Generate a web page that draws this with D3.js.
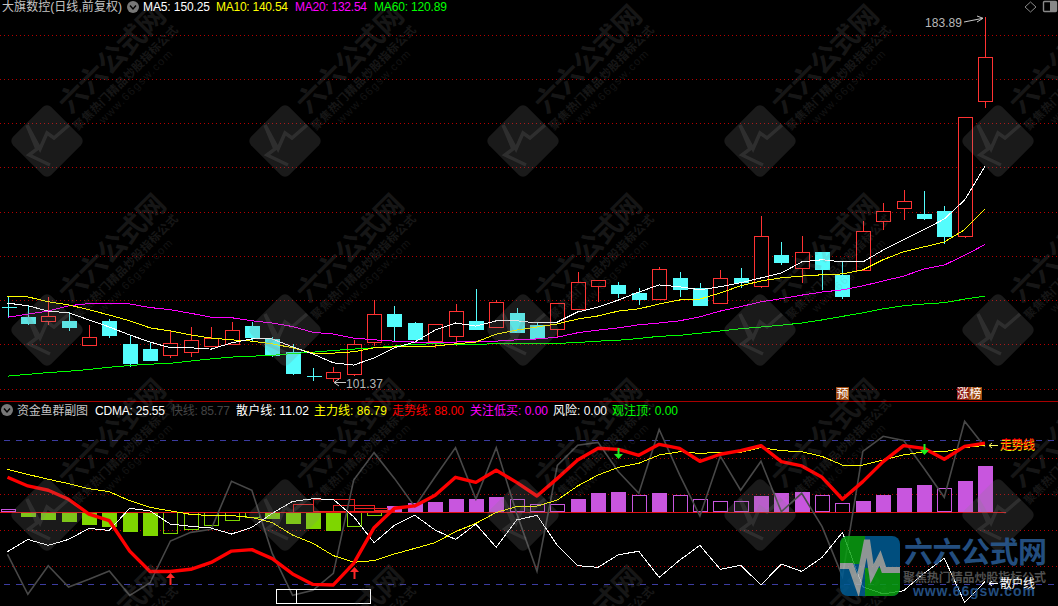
<!DOCTYPE html>
<html><head><meta charset="utf-8">
<style>html,body{margin:0;padding:0;background:#000;overflow:hidden}svg{display:block}text{font-family:"Liberation Sans","Noto Sans CJK SC",sans-serif}</style>
<script src="https://cdn.jsdelivr.net/npm/d3@7"></script></head><body><svg id="c" width="1058" height="606"></svg>
<script>
const opens=[118.5,116.2,115.3,115.3,109.7,115.3,110.1,108.9,107.4,108.1,109.5,110.1,114.1,111.2,108.3,102.8,102.4,103.2,110.4,116.9,114.8,110.6,111.9,115.3,113.8,117.1,114.4,113.5,117.8,123.1,123.4,121.6,120.2,125.0,122.7,119.3,124.9,123.0,130.2,127.1,130.9,125.7,126.7,137.8,140.7,139.5,140.2,134.3,165.0];
const closes=[118.5,114.9,116.4,113.9,111.6,112.1,105.8,106.4,110.2,110.9,111.4,113.2,111.6,107.6,103.5,102.8,103.7,110.0,116.8,114.1,111.2,114.5,117.5,113.5,119.5,112.8,111.4,119.3,124.0,124.5,121.6,120.2,127.0,122.5,118.9,124.9,124.1,134.4,128.6,130.8,127.0,120.9,135.6,140.1,142.3,138.6,134.5,161.3,174.9];
const highs=[120.7,118.7,120.6,117.3,114.4,115.7,111.9,110.5,113.0,113.9,113.9,115.0,115.0,111.6,110.1,104.6,104.9,111.0,120.0,118.7,115.0,114.5,119.1,122.5,120.0,118.1,115.0,119.3,126.4,124.5,124.0,122.7,127.4,126.4,123.9,126.8,127.2,139.0,133.1,134.5,130.9,128.8,137.9,142.0,144.9,144.7,141.3,161.3,183.89];
const lows=[116.0,114.4,114.4,113.0,109.7,111.5,104.9,106.2,106.9,107.1,109.5,110.1,110.7,107.1,103.1,101.7,101.37,102.8,109.5,110.7,111.2,109.2,109.5,113.2,113.8,112.6,111.2,111.3,117.8,119.6,120.5,118.9,120.0,120.7,118.8,119.3,122.7,122.6,127.9,123.9,122.3,120.3,126.7,135.9,138.1,138.1,132.7,133.9,163.3];
const ma5=[119.3,118.7,117.5,117.1,115.5,113.9,112.1,110.5,109.2,109.2,108.9,110.3,111.2,111.2,109.4,107.8,105.8,105.3,106.9,109.2,110.5,113.2,114.8,114.1,115.3,115.3,114.8,115.0,117.3,118.4,120.0,121.8,123.4,123.0,122.3,123.0,123.9,125.0,126.1,128.6,129.1,128.6,128.6,131.3,133.6,135.9,138.3,142.6,150.25];
const ma10=[120.9,120.7,119.6,118.9,117.8,116.6,115.3,113.7,113.0,112.1,111.4,111.0,110.7,110.1,109.2,108.0,108.0,108.3,109.2,109.4,109.4,109.6,110.1,110.5,112.3,113.2,113.9,114.6,115.7,116.4,117.5,118.0,119.1,120.0,120.2,121.6,123.2,124.3,125.0,125.4,125.7,125.9,126.8,129.1,130.9,132.0,133.1,135.9,140.54];
const ma20=[116.1,116.8,117.5,118.7,119.2,119.2,119.1,118.3,117.8,117.0,116.1,116.0,115.3,114.8,114.0,112.7,112.3,111.4,111.0,110.7,110.5,110.4,110.5,110.6,110.7,111.0,111.2,111.6,112.6,113.2,113.7,114.4,114.8,115.3,116.2,117.5,118.5,119.6,120.3,121.1,121.8,122.3,123.2,124.3,125.4,127.0,127.9,130.1,132.54];
const ma60=[102.8,103.2,103.6,103.9,104.3,104.8,105.2,105.5,105.7,106.2,106.7,107.1,107.3,107.5,107.9,108.2,108.6,108.9,109.2,109.6,110.0,110.1,110.0,110.0,110.1,110.2,110.2,110.2,110.4,110.7,110.9,111.3,111.8,112.0,112.5,113.0,113.5,113.9,114.3,114.8,115.5,116.3,117.1,118.0,118.7,119.1,119.4,120.2,120.89];
const priceGrid=[100,110,120,130,140,150,160,170,180];
const cdma=[1.3,-2.0,-3.7,-4.8,-6.5,-7.6,-10.4,-12.6,-11.7,-9.4,-7.4,-4.4,-2.8,-3.5,-5.9,-8.7,-10.2,-8.0,-1.9,3.0,4.6,5.2,6.9,6.9,8.0,6.7,3.9,3.9,6.9,10.2,10.7,9.4,10.2,9.4,6.7,5.6,5.6,8.5,10.2,10.7,8.9,5.0,5.7,9.1,13.0,14.6,12.8,16.8,25.55];
const cdmaSolid=[0,1,1,1,1,1,1,1,0,0,0,0,0,1,1,1,1,0,0,1,1,1,1,1,1,0,0,0,1,1,1,0,1,0,0,0,0,1,1,1,0,0,1,1,1,1,0,1,1];
const fastLine=[26.2,4.0,19.9,8.0,12.3,16.9,3.4,10.4,33.6,38.4,40.1,66.8,61.8,26.7,3.4,6.2,15.6,67.5,82.7,68.4,52.7,69.3,85.5,56.9,85.5,49.0,16.9,75.6,86.8,88.4,72.1,60.1,95.6,70.5,47.5,80.8,61.8,77.9,49.9,60.1,41.6,13.8,83.4,91.8,89.5,74.0,57.9,100.1,85.77];
const retailLine=[27.7,34.5,31.2,34.5,40.6,39.5,51.8,50.3,43.0,41.8,40.8,37.5,41.2,49.0,55.6,57.1,56.7,47.1,32.7,42.3,47.9,39.7,34.5,43.0,30.1,45.3,47.9,31.2,19.9,19.0,26.0,27.9,13.4,22.9,31.2,17.9,20.1,9.2,20.8,16.7,24.5,38.4,8.2,4.2,6.0,15.6,24.0,-0.5,11.02];
const mainLine=[73.4,70.6,67.9,65.5,62.7,61.0,56.0,52.3,50.3,48.4,47.7,47.7,46.7,43.8,36.9,32.3,25.5,21.8,22.7,26.4,29.5,32.7,38.8,43.4,49.5,52.7,53.0,56.4,64.2,70.3,74.5,76.8,81.4,83.2,82.3,82.9,82.9,85.5,83.8,83.2,80.6,75.8,75.8,78.6,81.4,83.2,83.2,85.5,86.79];
const trendLine=[69.0,64.2,61.8,56.8,48.6,44.9,28.0,16.7,16.7,17.9,21.7,28.0,28.8,23.8,15.3,9.5,9.2,21.2,41.0,51.8,53.1,59.0,69.0,66.2,72.9,66.2,58.6,68.4,78.6,85.1,84.5,81.2,87.3,85.1,77.9,81.8,83.8,86.6,77.7,75.3,69.0,56.8,66.6,77.7,86.6,85.1,79.0,86.2,88.0];
const subGrid=[20,40,60,80];
const subBands=[10,90];
const zoneStart=[14,15,16,17,18];
const zoneEnd=[15,17,18,18.6,19];
const zoneValue=[4.4,6.7,3.5,1.8,0.7];
const upArrowIdx=[8,17];
const upArrowTip=[15.8,19.2];
const downArrowIdx=[30,45];
const downArrowTip=[79.2,81.4];
const boxStart=13.18,boxEnd=17.82,boxDivider=14.17,boxTop=6.9,boxBottom=-0.6;
const headerLabels=[["大旗数控(日线,前复权)",2,122,"#c4c4c4"],["MA5: 150.25",143,210,"#fff"],["MA10: 140.54",216,288,"#ff0"],["MA20: 132.54",295,367,"#f0f"],["MA60: 120.89",374,447,"#0f0"]];
const subLabels=[["资金鱼群副图",17,88,"#c4c4c4"],["CDMA: 25.55",95,165,"#fff"],["快线: 85.77",171,230,"#444"],["散户线: 11.02",236,309,"#fff"],["主力线: 86.79",314,387,"#ff0"],["走势线: 88.00",392,464,"#f00"],["关注低买: 0.00",470,548,"#f0f"],["风险: 0.00",553,607,"#fff"],["观注顶: 0.00",612,678,"#0f0"]];
const tagLabels=[["预",836,849,"#a04a10"],["涨",957,969,"#8c1a10"],["榜",969,982,"#a04a10"]];
const markRows=[141,330,515,702];
const markCols=[47,285,523,760,998];

const svg=d3.select("#c");
svg.append("rect").attr("width",1058).attr("height",606).attr("fill","#000");
const x=d3.scaleLinear().domain([0,48]).range([7.5,985]);
const yM=d3.scaleLinear().domain([100,180]).range([388.5,34.5]);
const yS=d3.scaleLinear().domain([10,90]).range([583.5,439.5]);
const px=v=>Math.round(v)+.5;
const idx=d3.range(opens.length);
const gM=svg.append("g"),gS=svg.append("g");

// grids
[[gM,priceGrid,yM],[gS,subGrid,yS]].forEach(([g,vals,sc])=>{
 g.selectAll(".g").data(vals).join("line").attr("x1",0).attr("x2",1058).attr("y1",d=>px(sc(d))).attr("y2",d=>px(sc(d))).attr("stroke","#b40000").attr("stroke-dasharray","1 3").attr("shape-rendering","crispEdges");
});
gS.selectAll(".b").data(subBands).join("line").attr("x1",4).attr("x2",1058).attr("y1",d=>px(yS(d))).attr("y2",d=>px(yS(d))).attr("stroke","#3c3ca0").attr("stroke-dasharray","6 6").attr("shape-rendering","crispEdges");
svg.append("line").attr("x1",0).attr("x2",1058).attr("y1",401.5).attr("y2",401.5).attr("stroke","#a80000");

// candles
const red="#ff3232",cyan="#54fcfc";
const col=i=>closes[i]>opens[i]?red:cyan;
gM.selectAll(".w").data(idx).join("line").attr("x1",i=>px(x(i))).attr("x2",i=>px(x(i))).attr("y1",i=>yM(highs[i])).attr("y2",i=>yM(lows[i])).attr("stroke",col).attr("shape-rendering","crispEdges");
gM.selectAll(".bd").data(idx.filter(i=>opens[i]!==closes[i])).join("rect").attr("x",i=>px(x(i))-7).attr("width",14)
 .attr("y",i=>px(yM(Math.max(opens[i],closes[i])))).attr("height",i=>Math.round(Math.abs(yM(opens[i])-yM(closes[i]))))
 .attr("fill",i=>closes[i]>opens[i]?"#000":cyan).attr("stroke",col).attr("shape-rendering","crispEdges");
gM.selectAll(".dj").data(idx.filter(i=>opens[i]===closes[i])).join("line").attr("x1",i=>px(x(i))-7).attr("x2",i=>px(x(i))+8).attr("y1",i=>px(yM(opens[i]))).attr("y2",i=>px(yM(opens[i]))).attr("stroke",col).attr("shape-rendering","crispEdges");

// moving averages
const lineM=d3.line().x((d,i)=>x(i)).y(d=>yM(d));
[[ma60,"#00ff00"],[ma20,"#ff00ff"],[ma10,"#ffff00"],[ma5,"#ffffff"]].forEach(([s,c])=>{
 gM.append("path").attr("d",lineM(s)).attr("fill","none").attr("stroke",c).attr("shape-rendering","crispEdges");
});

// CDMA bars
const purple="#c856de",lime="#7ed600";
const barC=i=>cdma[i]>=0?purple:lime;
gS.selectAll(".cb").data(idx).join("rect").attr("x",i=>px(x(i))-7).attr("width",14)
 .attr("y",i=>px(Math.min(yS(50),yS(50+cdma[i])))).attr("height",i=>Math.round(Math.abs(yS(50)-yS(50+cdma[i]))))
 .attr("fill",i=>cdmaSolid[i]?barC(i):"none").attr("stroke",barC).attr("shape-rendering","crispEdges");
gS.selectAll(".z").data(zoneStart).join("rect").attr("x",(d,i)=>px(x(d))).attr("width",(d,i)=>x(zoneEnd[i])-x(d))
 .attr("y",(d,i)=>px(yS(50+zoneValue[i]))).attr("height",(d,i)=>Math.round(yS(50)-yS(50+zoneValue[i])))
 .attr("fill","none").attr("stroke","#e82020").attr("shape-rendering","crispEdges");
gS.append("line").attr("x1",0).attr("x2",1006).attr("y1",px(yS(50))).attr("y2",px(yS(50))).attr("stroke","#e01010");

// indicator lines
const lineS=d3.line().x((d,i)=>x(i)).y(d=>yS(d));
gS.append("path").attr("d",lineS(fastLine)).attr("fill","none").attr("stroke","#484848").attr("stroke-width",1.6);
gS.append("path").attr("d",lineS(retailLine)).attr("fill","none").attr("stroke","#fff").attr("shape-rendering","crispEdges");
gS.append("path").attr("d",lineS(mainLine)).attr("fill","none").attr("stroke","#ff0").attr("shape-rendering","crispEdges");
gS.append("rect").attr("x",px(x(boxStart))).attr("y",px(yS(boxTop))).attr("width",x(boxEnd)-x(boxStart)).attr("height",yS(boxBottom)-yS(boxTop)).attr("fill","none").attr("stroke","#fff").attr("shape-rendering","crispEdges");
gS.append("line").attr("x1",px(x(boxDivider))).attr("x2",px(x(boxDivider))).attr("y1",yS(boxTop)).attr("y2",yS(boxBottom)).attr("stroke","#fff").attr("shape-rendering","crispEdges");
gS.append("path").attr("d",lineS(trendLine)).attr("fill","none").attr("stroke","#ff0000").attr("stroke-width",3.4).attr("stroke-linejoin","round");

// arrows
upArrowIdx.forEach((k,i)=>{const a=px(x(k)),t=yS(upArrowTip[i]);
 gS.append("path").attr("d",`M${a},${t}L${a+4.5},${t+5}L${a+1},${t+5}V${t+12}H${a-1}V${t+5}H${a-4.5}Z`).attr("fill","#ff2828");});
downArrowIdx.forEach((k,i)=>{const a=px(x(k)),t=yS(downArrowTip[i]);
 gS.append("path").attr("d",`M${a},${t}L${a+4.5},${t-5}L${a+1},${t-5}V${t-11}H${a-1}V${t-5}H${a-4.5}Z`).attr("fill","#1cf01c");});

// watermarks above the marks, translucent
const wm=svg.append("g");
markRows.forEach(r=>markCols.forEach(c=>{
 const g=wm.append("g").attr("transform",`translate(${c},${r})`);
 g.append("rect").attr("x",-27).attr("y",-27).attr("width",54).attr("height",54).attr("rx",6).attr("transform","rotate(45)").attr("fill","#808080").attr("opacity",.2);
 g.append("path").attr("d","M22,-16L7,-3L0,-8L-7,8L-20,-16L-10,8L-18,14L3,24").attr("fill","none").attr("stroke","#808080").attr("stroke-width",3.5).attr("opacity",.2);
 const t=g.append("g").attr("transform","rotate(-45)");
 t.append("text").attr("x",35).attr("y",-2).attr("font-size",28).attr("font-weight",700).attr("textLength",138).attr("fill","#808080").attr("opacity",.17).text("六六公式网");
 t.append("text").attr("x",29).attr("y",15).attr("font-size",11.5).attr("font-weight",700).attr("textLength",142).attr("fill","#808080").attr("opacity",.17).text("聚焦热门精品炒股指标公式");
 t.append("text").attr("x",52).attr("y",28).attr("font-size",11).attr("textLength",98).attr("fill","#808080").attr("opacity",.14).text("www.66gsw.com");
}));

// corner logo
const logo=svg.append("g").attr("opacity",.85);
const clip=svg.append("defs").append("clipPath").attr("id","lc");clip.append("rect").attr("x",840).attr("y",536).attr("width",60).attr("height",60).attr("rx",8);
const lq=logo.append("g").attr("clip-path","url(#lc)");
lq.append("rect").attr("x",840).attr("y",536).attr("width",60).attr("height",60).attr("fill","#005c94");
lq.append("rect").attr("x",840).attr("y",536).attr("width",25).attr("height",28).attr("fill","#0aa012");
lq.append("rect").attr("x",865).attr("y",568).attr("width",35).attr("height",28).attr("fill","#0aa012");
lq.append("path").attr("d","M838,566H851L858,586L867,540L872,574L880,558L884,570H902").attr("fill","none").attr("stroke","#a8b0b0").attr("stroke-width",6);
logo.append("text").attr("x",904).attr("y",563).attr("font-size",29).attr("font-weight",700).attr("textLength",143).attr("fill","#2a5c96").text("六六公式网");
logo.append("text").attr("x",903).attr("y",582).attr("font-size",12).attr("font-weight",700).attr("textLength",143).attr("fill","#5e5e5e").text("聚焦热门精品炒股指标公式");
logo.append("text").attr("x",913).attr("y",596).attr("font-size",14).attr("font-weight",700).attr("textLength",122).attr("fill","#2a5c96").text("www.66gsw.com");

// text
const lab=(g,d,y)=>g.append("text").attr("x",d[1]).attr("y",y).attr("font-size",12).attr("textLength",d[2]-d[1]).attr("fill",d[3]).text(d[0]);
const ui=svg.append("g");
headerLabels.forEach(d=>lab(ui,d,11));
subLabels.forEach(d=>lab(ui,d,415));
tagLabels.forEach(d=>{ui.append("rect").attr("x",d[1]).attr("y",387).attr("width",d[2]-d[1]).attr("height",13).attr("fill",d[3]);
 ui.append("text").attr("x",(d[1]+d[2])/2).attr("y",398).attr("font-size",12).attr("text-anchor","middle").attr("fill","#fff").text(d[0]);});
[[133,7],[7,410]].forEach(([a,b])=>{ui.append("circle").attr("cx",a).attr("cy",b).attr("r",6).attr("fill","#777");
 ui.append("path").attr("d",`M${a-3},${b-1.5}L${a},${b+2}L${a+3},${b-1.5}`).attr("fill","none").attr("stroke","#000").attr("stroke-width",1.4);});
ui.append("path").attr("d","M1030.5,2L1036,7L1030.5,12L1025,7Z").attr("fill","none").attr("stroke","#888");
ui.append("rect").attr("x",1043.5).attr("y",1.5).attr("width",13).attr("height",10).attr("rx",1).attr("fill","none").attr("stroke","#888").attr("stroke-width",1.4);
ui.append("rect").attr("x",1050).attr("y",2).attr("width",6).attr("height",9).attr("fill","#888");
// high / low notes
ui.append("text").attr("x",925).attr("y",27).attr("font-size",12).attr("textLength",37).attr("fill","#b8b8b8").text(highs[48].toFixed(2));
ui.append("path").attr("d",`M964,22L983,${yM(highs[48])+1}M977,16L983,${yM(highs[48])+1}L977,22`).attr("fill","none").attr("stroke","#c8c8c8");
ui.append("path").attr("d","M334,382.5H346M334,382.5L339,379M334,382.5L339,386").attr("fill","none").attr("stroke","#c8c8c8");
ui.append("text").attr("x",346).attr("y",388).attr("font-size",12).attr("textLength",37).attr("fill","#b8b8b8").text(lows[16].toFixed(2));
// line tags
ui.append("path").attr("d","M989,445.5H998M989,445.5L992,443M989,445.5L992,448").attr("fill","none").attr("stroke","#ffff60");
ui.append("text").attr("x",1000).attr("y",450).attr("font-size",12).attr("textLength",35).attr("fill","#ff0").text("走势线");
ui.append("text").attr("x",1000).attr("y",449).attr("font-size",12).attr("textLength",35).attr("fill","#f00").text("走势线");
ui.append("path").attr("d","M989,583.5H998M989,583.5L992,581M989,583.5L992,586").attr("fill","none").attr("stroke","#fff");
ui.append("text").attr("x",1000).attr("y",588).attr("font-size",12).attr("textLength",35).attr("fill","#fff").text("散户线");
</script></body></html>
